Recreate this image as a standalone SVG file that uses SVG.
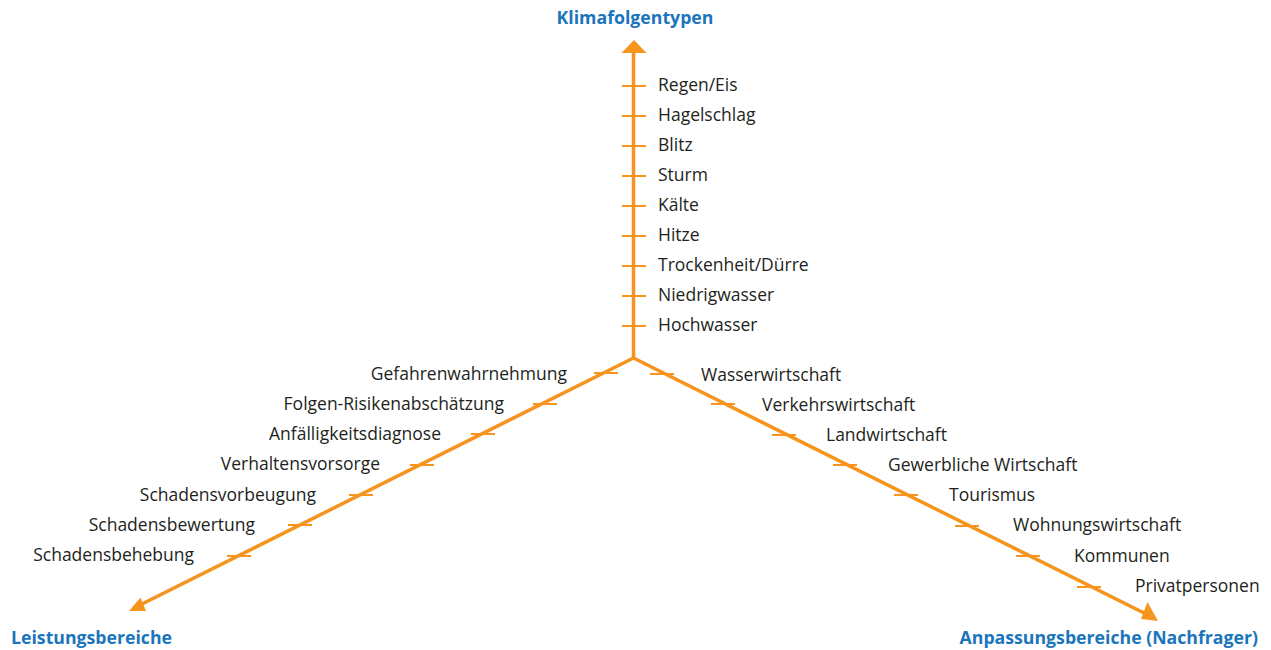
<svg xmlns="http://www.w3.org/2000/svg" width="1271" height="650" viewBox="0 0 1271 650">
<style>
.ax{stroke:#f7941d;stroke-width:3.5;fill:none}
.tk{stroke:#f7941d;stroke-width:2;fill:none}
.ah{fill:#f7941d}
.lb{font-family:"Open Sans","Liberation Sans",sans-serif;font-size:17.5px;fill:#231f20}
.tt{font-family:"Open Sans","Liberation Sans",sans-serif;font-size:17.7px;font-weight:bold;fill:#1b75bc}
.r{text-anchor:end}
</style>
<rect width="1271" height="650" fill="#fff"/>
<g id="connectors">
<line class="ax" x1="633.5" y1="358" x2="633.5" y2="50"/>
<polygon class="ah" points="634,40 621.5,53 646.5,53"/>
<line class="ax" x1="633.5" y1="358" x2="140" y2="605"/>
<polygon class="ah" points="129,611 140.5,597.5 146,611"/>
<line class="ax" x1="633.5" y1="358" x2="1148" y2="615"/>
<polygon class="ah" points="1158,621 1141,619 1147.5,602"/>
<g class="tk">
<path d="M622 86h24M622 116h24M622 146h24M622 176h24M622 206h24M622 236h24M622 266h24M622 296h24M622 326h24"/>
<path d="M594 373h24M533 404h24M471 434h24M410 465h24M349 495h24M288 525h24M227 556h24"/>
<path d="M650 374h24M711 404h24M772 435h24M833 465h24M894 495h24M955 526h24M1016 556h24M1077 587h24"/>
</g>
</g>
<g id="title-top"><text class="tt" x="635" y="24" text-anchor="middle">Klimafolgentypen</text></g>
<g id="title-left"><text class="tt" x="11" y="644">Leistungsbereiche</text></g>
<g id="title-right"><text class="tt" x="1258" y="644" text-anchor="end">Anpassungsbereiche (Nachfrager)</text></g>
<g id="klima">
<text class="lb" x="658" y="91">Regen/Eis</text>
<text class="lb" x="658" y="121">Hagelschlag</text>
<text class="lb" x="658" y="151">Blitz</text>
<text class="lb" x="658" y="181">Sturm</text>
<text class="lb" x="658" y="211">Kälte</text>
<text class="lb" x="658" y="241">Hitze</text>
<text class="lb" x="658" y="271">Trockenheit/Dürre</text>
<text class="lb" x="658" y="301">Niedrigwasser</text>
<text class="lb" x="658" y="331">Hochwasser</text>
</g>
<g id="leistung">
<text class="lb r" x="567" y="380">Gefahrenwahrnehmung</text>
<text class="lb r" x="504" y="410">Folgen-Risikenabschätzung</text>
<text class="lb r" x="441" y="440">Anfälligkeitsdiagnose</text>
<text class="lb r" x="380" y="470">Verhaltensvorsorge</text>
<text class="lb r" x="316" y="501">Schadensvorbeugung</text>
<text class="lb r" x="255" y="531">Schadensbewertung</text>
<text class="lb r" x="194" y="561">Schadensbehebung</text>
</g>
<g id="anpassung">
<text class="lb" x="701" y="381">Wasserwirtschaft</text>
<text class="lb" x="762" y="411">Verkehrswirtschaft</text>
<text class="lb" x="826" y="441">Landwirtschaft</text>
<text class="lb" x="888" y="471">Gewerbliche Wirtschaft</text>
<text class="lb" x="949" y="501">Tourismus</text>
<text class="lb" x="1013" y="531">Wohnungswirtschaft</text>
<text class="lb" x="1074" y="562">Kommunen</text>
<text class="lb" x="1135" y="592">Privatpersonen</text>
</g>
</svg>
